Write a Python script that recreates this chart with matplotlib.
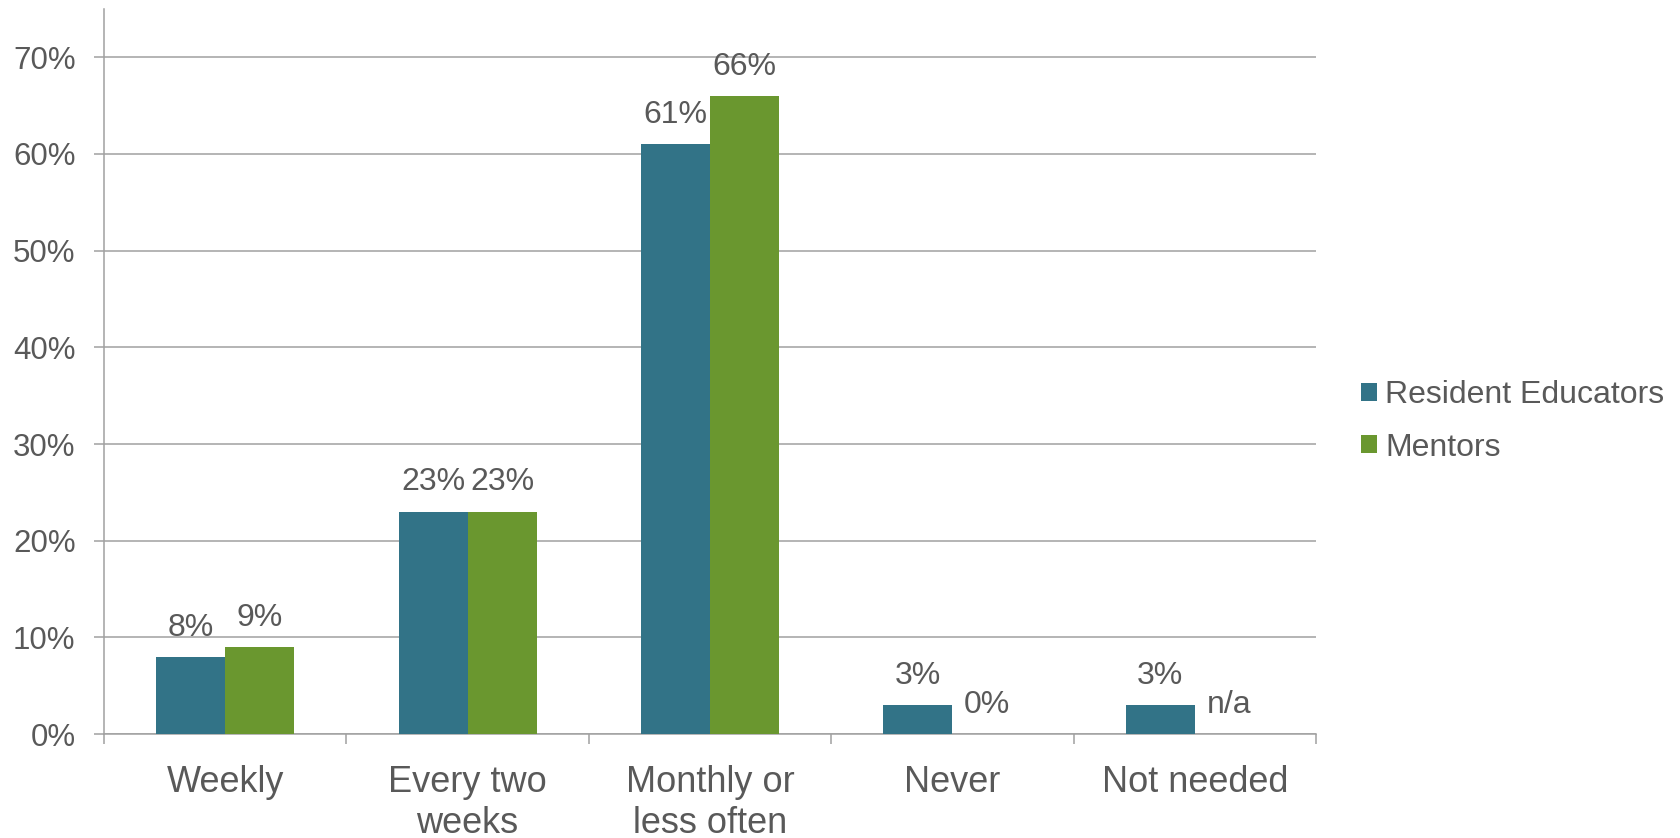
import matplotlib
matplotlib.use("Agg")
import matplotlib.pyplot as plt
import numpy as np

categories = ["Weekly", "Every two\nweeks", "Monthly or\nless often", "Never", "Not needed"]
resident = [8, 23, 61, 3, 3]
mentors = [9, 23, 66, 0, None]  # None -> n/a
series_names = ["Resident Educators", "Mentors"]
yticks = [0, 10, 20, 30, 40, 50, 60, 70]

BLUE = "#327387"
GREEN = "#6A972F"
TEXT = "#595959"
GRID = "#A0A0A0"

plt.rcParams['font.family'] = ['Liberation Sans', 'DejaVu Sans']

fig = plt.figure(figsize=(16.81, 8.38), dpi=100)
ax = fig.add_axes([104/1681, 1 - 734/838, (1316 - 104)/1681, (734 - 9)/838])

x = np.arange(len(categories))
w = 0.285
res_vals = [v for v in resident]
men_vals = [0 if v is None else v for v in mentors]
ax.bar(x - w/2, res_vals, w, color=BLUE, label=series_names[0], zorder=3)
ax.bar(x + w/2, men_vals, w, color=GREEN, label=series_names[1], zorder=3)

fs_data = 23
for xi, v in zip(x - w/2, resident):
    ax.annotate(f"{v}%", (xi, v), xytext=(0, 21), textcoords="offset points",
                ha="center", va="center", fontsize=fs_data, color=TEXT)
for xi, v in zip(x + w/2, mentors):
    lab = "n/a" if v is None else f"{v}%"
    yv = 0 if v is None else v
    ax.annotate(lab, (xi, yv), xytext=(0, 21), textcoords="offset points",
                ha="center", va="center", fontsize=fs_data, color=TEXT)

ax.set_xlim(-0.5, len(categories) - 0.5)
ax.set_ylim(0, 75)
ax.set_yticks(yticks)
ax.set_yticklabels([f"{t}%" for t in yticks], fontsize=22.5, color=TEXT)
ax.yaxis.grid(True, color=GRID, linewidth=1.1, zorder=0)
ax.set_axisbelow(True)

ax.set_xticks(x)
ax.set_xticklabels(categories, fontsize=26, color=TEXT, linespacing=1.25)
ax.set_xticks(np.arange(len(categories) + 1) - 0.5, minor=True)
ax.tick_params(axis="x", which="major", length=0, pad=22)
ax.tick_params(axis="x", which="minor", length=7.5, width=1.1, color=GRID)
ax.tick_params(axis="y", length=7.5, width=1.1, color=GRID, pad=13)

for s in ["top", "right"]:
    ax.spines[s].set_visible(False)
for s in ["left", "bottom"]:
    ax.spines[s].set_color(GRID)
    ax.spines[s].set_linewidth(1.1)

leg = ax.legend(loc="center left", bbox_to_anchor=(1.0135, 0.431), frameon=False,
                fontsize=23, handlelength=0.5, handleheight=0.5, handletextpad=0.25,
                labelspacing=0.7)
for t in leg.get_texts():
    t.set_color(TEXT)

fig.savefig("out.png", dpi=100)
